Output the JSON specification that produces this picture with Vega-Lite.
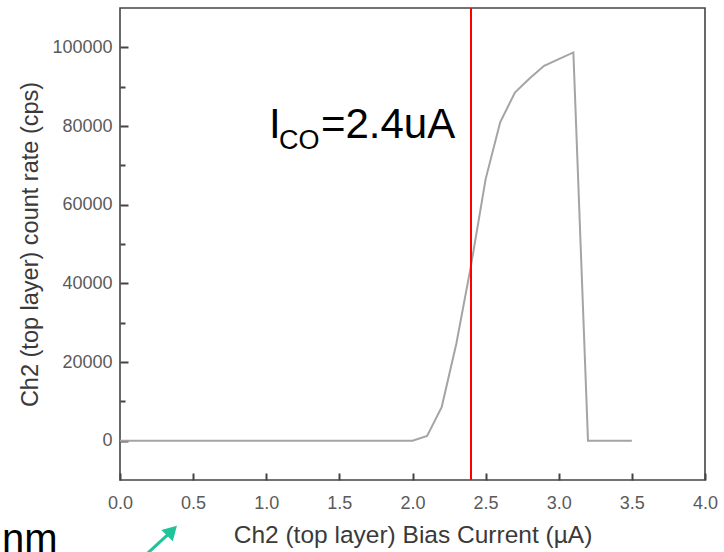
{
  "$schema": "https://vega.github.io/schema/vega-lite/v6.json",
  "width": 585,
  "height": 472,
  "autosize": {"type": "none"},
  "padding": {"left": 120, "top": 8, "right": 19, "bottom": 72},
  "background": "white",
  "config": {
    "view": {"stroke": "#444", "strokeWidth": 1.6},
    "font": "Liberation Sans"
  },
  "datasets": {
    "curve": [
      {"x": 0.0, "y": 0}, {"x": 0.1, "y": 0}, {"x": 0.2, "y": 0}, {"x": 0.3, "y": 0},
      {"x": 0.4, "y": 0}, {"x": 0.5, "y": 0}, {"x": 0.6, "y": 0}, {"x": 0.7, "y": 0},
      {"x": 0.8, "y": 0}, {"x": 0.9, "y": 0}, {"x": 1.0, "y": 0}, {"x": 1.1, "y": 0},
      {"x": 1.2, "y": 0}, {"x": 1.3, "y": 0}, {"x": 1.4, "y": 0}, {"x": 1.5, "y": 0},
      {"x": 1.6, "y": 0}, {"x": 1.7, "y": 0}, {"x": 1.8, "y": 0}, {"x": 1.9, "y": 0},
      {"x": 2.0, "y": 0}, {"x": 2.1, "y": 1200}, {"x": 2.2, "y": 8600},
      {"x": 2.3, "y": 24700}, {"x": 2.4, "y": 44500}, {"x": 2.5, "y": 66500},
      {"x": 2.6, "y": 81000}, {"x": 2.7, "y": 88500}, {"x": 2.8, "y": 92100},
      {"x": 2.9, "y": 95300}, {"x": 3.0, "y": 97000}, {"x": 3.1, "y": 98700},
      {"x": 3.2, "y": 0}, {"x": 3.3, "y": 0}, {"x": 3.4, "y": 0}, {"x": 3.5, "y": 0}
    ],
    "cutoff": [{"x": 2.4}],
    "annotBig": [
      {"x": 1.019, "y": 76960, "t": "I"},
      {"x": 1.374, "y": 76960, "t": "=2.4uA"}
    ],
    "annotSub": [
      {"x": 1.087, "y": 74180, "t": "CO"}
    ],
    "nm": [{"x": -0.807, "y": -28220, "t": "nm"}],
    "arrow": [
      {"x": 0.1778, "y": -28983},
      {"x": 0.3419, "y": -23390}
    ],
    "head": [{"x": 0.3556, "y": -22881}]
  },
  "layer": [
    {
      "data": {"name": "curve"},
      "mark": {"type": "line", "color": "#a4a4a4", "strokeWidth": 2},
      "encoding": {
        "x": {
          "field": "x", "type": "quantitative",
          "scale": {"domain": [0, 4], "nice": false, "zero": false},
          "axis": {
            "orient": "bottom",
            "offset": -7,
            "domain": false,
            "title": "Ch2 (top layer) Bias Current (\u00b5A)",
            "values": [0, 0.25, 0.5, 0.75, 1, 1.25, 1.5, 1.75, 2, 2.25, 2.5, 2.75, 3, 3.25, 3.5, 3.75, 4],
            "labelExpr": "datum.value % 0.5 === 0 ? format(datum.value, '.1f') : ''",
            "labelFlush": false,
            "labelOverlap": false,
            "labelFontSize": 18,
            "labelColor": "#5a5a5a",
            "labelPadding": 14,
            "tickSize": 7,
            "tickDash": {"condition": {"test": "datum.value % 0.5 !== 0", "value": [0, 4, 3, 50]}, "value": [8, 0]},
            "tickColor": "#444",
            "tickWidth": 2,
            "grid": false,
            "titleFontSize": 24.5,
            "titleFontWeight": "normal",
            "titleColor": "#3a3a3a",
            "titlePadding": 11
          }
        },
        "y": {
          "field": "y", "type": "quantitative",
          "scale": {"domain": [-10000, 110000], "nice": false, "zero": false},
          "axis": {
            "orient": "left",
            "offset": -8,
            "domain": false,
            "title": "Ch2 (top layer) count rate (cps)",
            "values": [0, 10000, 20000, 30000, 40000, 50000, 60000, 70000, 80000, 90000, 100000],
            "labelExpr": "datum.value % 20000 === 0 ? format(datum.value, 'd') : ''",
            "labelFlush": false,
            "labelOverlap": false,
            "labelFontSize": 18,
            "labelColor": "#5a5a5a",
            "labelPadding": 8,
            "tickSize": 8,
            "tickDash": {"condition": {"test": "datum.value % 20000 !== 0", "value": [0, 3, 5, 50]}, "value": [8, 0]},
            "tickColor": "#444",
            "tickWidth": 2,
            "grid": false,
            "titleFontSize": 23.5,
            "titleFontWeight": "normal",
            "titleColor": "#3a3a3a",
            "titlePadding": 9
          }
        }
      }
    },
    {
      "data": {"name": "cutoff"},
      "mark": {"type": "rule", "color": "#ff0000", "strokeWidth": 2},
      "encoding": {
        "x": {"field": "x", "type": "quantitative"}
      }
    },
    {
      "data": {"name": "annotBig"},
      "mark": {"type": "text", "align": "left", "baseline": "alphabetic", "fontSize": 42, "color": "#000000", "font": "Liberation Sans"},
      "encoding": {
        "x": {"field": "x", "type": "quantitative"},
        "y": {"field": "y", "type": "quantitative"},
        "text": {"field": "t"}
      }
    },
    {
      "data": {"name": "annotSub"},
      "mark": {"type": "text", "align": "left", "baseline": "alphabetic", "fontSize": 27, "color": "#000000", "font": "Liberation Sans"},
      "encoding": {
        "x": {"field": "x", "type": "quantitative"},
        "y": {"field": "y", "type": "quantitative"},
        "text": {"field": "t"}
      }
    },
    {
      "data": {"name": "nm"},
      "mark": {"type": "text", "align": "left", "baseline": "alphabetic", "fontSize": 40, "color": "#000000", "font": "Liberation Sans"},
      "encoding": {
        "x": {"field": "x", "type": "quantitative"},
        "y": {"field": "y", "type": "quantitative"},
        "text": {"field": "t"}
      }
    },
    {
      "data": {"name": "arrow"},
      "mark": {"type": "line", "color": "#1fc49a", "strokeWidth": 3},
      "encoding": {
        "x": {"field": "x", "type": "quantitative"},
        "y": {"field": "y", "type": "quantitative"}
      }
    },
    {
      "data": {"name": "head"},
      "mark": {"type": "point", "shape": "triangle-up", "filled": true, "color": "#1fc49a", "opacity": 1, "size": 260, "angle": 45},
      "encoding": {
        "x": {"field": "x", "type": "quantitative"},
        "y": {"field": "y", "type": "quantitative"}
      }
    }
  ]
}
